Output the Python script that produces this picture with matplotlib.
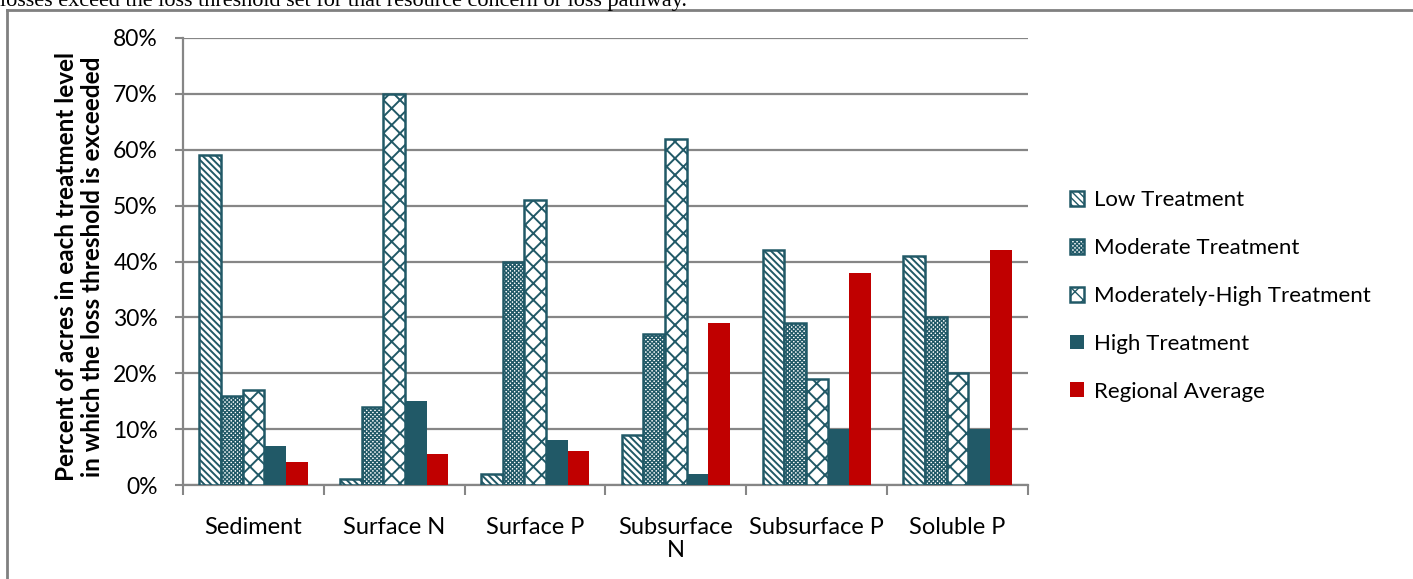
import matplotlib
matplotlib.use("Agg")
import matplotlib.pyplot as plt
import numpy as np
from matplotlib.patches import Patch
from matplotlib.lines import Line2D

plt.rcParams['font.family'] = ['Lato', 'DejaVu Sans']

categories = ["Sediment", "Surface N", "Surface P", "Subsurface\nN", "Subsurface P", "Soluble P"]
series_names = ["Low Treatment", "Moderate Treatment", "Moderately-High Treatment",
                "High Treatment", "Regional Average"]
low_treatment = [59, 1, 2, 9, 42, 41]
moderate_treatment = [16, 14, 40, 27, 29, 30]
mod_high_treatment = [17, 70, 51, 62, 19, 20]
high_treatment = [7, 15, 8, 2, 10, 10]
regional_average = [4.2, 5.5, 6, 29, 38, 42]
y_ticks = [0, 10, 20, 30, 40, 50, 60, 70, 80]

TEAL = "#215967"
RED = "#C00000"
GRID = "#868686"

series = [low_treatment, moderate_treatment, mod_high_treatment, high_treatment, regional_average]
styles = [
    dict(facecolor="white", edgecolor=TEAL, hatch="\\\\\\\\\\", linewidth=1.8),
    dict(facecolor="white", edgecolor=TEAL, hatch="xxxxxxxx", linewidth=1.8),
    dict(facecolor="white", edgecolor=TEAL, hatch="xx", linewidth=1.8),
    dict(facecolor=TEAL, edgecolor=TEAL, linewidth=0),
    dict(facecolor=RED, edgecolor=RED, linewidth=0),
]
hatch_widths = [1.4, 1.0, 1.4, 1.0, 1.0]

W, H = 1413, 579
fig = plt.figure(figsize=(W / 100, H / 100), dpi=100)
ax = fig.add_axes([183 / W, 1 - 485 / H, 845 / W, 447 / H])

x = np.arange(len(categories))
bw = 0.154
for i, (vals, st, hw) in enumerate(zip(series, styles, hatch_widths)):
    with plt.rc_context({'hatch.linewidth': hw}):
        ax.bar(x + (i - 2) * bw, vals, width=bw, zorder=3, **st)

ax.set_xlim(-0.5, len(categories) - 0.5)
ax.set_ylim(0, 80)
ax.set_yticks(y_ticks)
ax.set_yticklabels([f"{t}%" for t in y_ticks], fontsize=16.5)
ax.set_xticks(x)
ax.set_xticklabels(categories, fontsize=17, linespacing=1.1)
ax.tick_params(axis='x', which='major', length=0, pad=23)
ax.set_xticks(np.arange(-0.5, len(categories), 1.0), minor=True)
ax.tick_params(axis='x', which='minor', length=7, width=1.5, color=GRID, direction='out')
ax.tick_params(axis='y', length=6, width=1.5, color=GRID, direction='out', pad=12)

ax.yaxis.grid(True, color=GRID, linewidth=1.6, zorder=0)
ax.set_axisbelow(True)
for s in ["top", "right"]:
    ax.spines[s].set_visible(False)
for s in ["left", "bottom"]:
    ax.spines[s].set_color(GRID)
    ax.spines[s].set_linewidth(1.6)

ax.set_ylabel("Percent of acres in each treatment level\nin which the loss threshold is exceeded",
              fontsize=17.5, fontweight='bold', linespacing=1.2)
ax.yaxis.set_label_coords(-0.093, 0.488)

handles = []
for st, hw in zip(styles, hatch_widths):
    with plt.rc_context({'hatch.linewidth': hw}):
        handles.append(Patch(**st))
fig.legend(handles, series_names, loc='center left', bbox_to_anchor=(1050 / W, 1 - 296 / H),
           frameon=False, fontsize=16, handlelength=0.65, handleheight=0.65,
           handletextpad=0.45, labelspacing=1.25)

# page frame around the chart
frame = dict(color="#808080", linewidth=2, transform=fig.transFigure)
fig.add_artist(Line2D([7 / W, 1], [1 - 10 / H, 1 - 10 / H], **frame))
fig.add_artist(Line2D([7 / W, 7 / W], [0, 1 - 10 / H], **frame))

fig.text(0.0, 1 - 6 / H, "losses exceed the loss threshold set for that resource concern or loss pathway.",
         family="Liberation Serif", fontsize=16, va='baseline', ha='left')

fig.savefig("out.png", dpi=100)
